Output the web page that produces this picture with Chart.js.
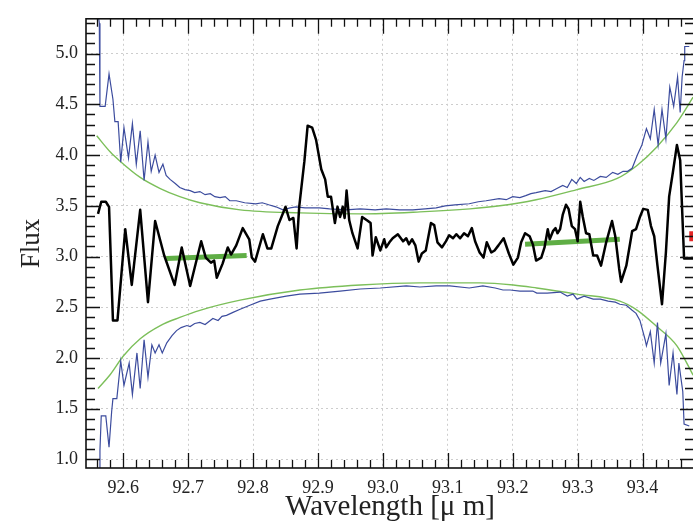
<!DOCTYPE html>
<html>
<head>
<meta charset="utf-8">
<script src="https://cdn.jsdelivr.net/npm/chart.js@4/dist/chart.umd.min.js"></script>
<style>
  html, body { margin: 0; padding: 0; background: #fff; overflow: hidden; }
  canvas { display: block; }
</style>
</head>
<body>
<canvas id="spectrum" width="700" height="525"></canvas>
<script>
// tick labels
const xTicks = [92.6, 92.7, 92.8, 92.9, 93.0, 93.1, 93.2, 93.3, 93.4];
const yTicks = [1.0, 1.5, 2.0, 2.5, 3.0, 3.5, 4.0, 4.5, 5.0];

// observed spectrum (black)
const specWave = [92.561, 92.566, 92.573, 92.578, 92.584, 92.591, 92.603, 92.613, 92.626, 92.638,
  92.649, 92.663, 92.679, 92.690, 92.703, 92.720, 92.727, 92.735, 92.740, 92.744,
  92.753, 92.761, 92.766, 92.774, 92.784, 92.794, 92.798, 92.803, 92.815, 92.822,
  92.828, 92.838, 92.850, 92.856, 92.862, 92.867, 92.871, 92.879, 92.884, 92.891,
  92.897, 92.905, 92.911, 92.915, 92.920, 92.926, 92.930, 92.934, 92.938, 92.941,
  92.944, 92.948, 92.953, 92.961, 92.968, 92.977, 92.981, 92.984, 92.989, 92.996,
  93.002, 93.005, 93.010, 93.015, 93.023, 93.031, 93.036, 93.040, 93.045, 93.050,
  93.055, 93.060, 93.066, 93.074, 93.079, 93.084, 93.091, 93.097, 93.102, 93.108,
  93.113, 93.119, 93.125, 93.131, 93.137, 93.142, 93.149, 93.155, 93.160, 93.167,
  93.172, 93.178, 93.186, 93.194, 93.201, 93.208, 93.213, 93.219, 93.226, 93.231,
  93.236, 93.244, 93.249, 93.254, 93.257, 93.262, 93.266, 93.269, 93.273, 93.277,
  93.282, 93.286, 93.291, 93.296, 93.300, 93.304, 93.308, 93.313, 93.318, 93.324,
  93.330, 93.336, 93.344, 93.353, 93.358, 93.364, 93.367, 93.375, 93.384, 93.390,
  93.396, 93.401, 93.408, 93.413, 93.418, 93.423, 93.430, 93.436, 93.441, 93.447,
  93.453, 93.458, 93.464, 93.490];
const specFlux = [3.42, 3.54, 3.54, 3.49, 2.37, 2.37, 3.27, 2.72, 3.46, 2.55,
  3.35, 3.01, 2.72, 3.09, 2.71, 3.15, 2.99, 2.94, 2.96, 2.79,
  2.93, 3.09, 3.02, 3.11, 3.28, 3.17, 2.99, 2.95, 3.22, 3.08,
  3.08, 3.30, 3.49, 3.36, 3.38, 3.08, 3.49, 3.94, 4.29, 4.27,
  4.15, 3.86, 3.76, 3.59, 3.59, 3.33, 3.49, 3.39, 3.49, 3.38,
  3.65, 3.36, 3.23, 3.08, 3.39, 3.35, 3.33, 3.01, 3.19, 3.06,
  3.17, 3.09, 3.14, 3.18, 3.22, 3.15, 3.18, 3.12, 3.17, 3.11,
  2.95, 3.03, 3.06, 3.33, 3.31, 3.14, 3.09, 3.15, 3.21, 3.18,
  3.22, 3.18, 3.23, 3.20, 3.28, 3.15, 3.04, 2.99, 3.14, 3.04,
  3.06, 3.11, 3.18, 3.03, 2.92, 2.99, 3.14, 3.23, 3.20, 3.12,
  2.96, 2.99, 3.09, 3.27, 3.17, 3.25, 3.28, 3.23, 3.27, 3.41,
  3.51, 3.47, 3.30, 3.27, 3.15, 3.54, 3.39, 3.23, 3.22, 3.01,
  3.01, 2.91, 3.14, 3.35, 3.20, 2.88, 2.75, 2.91, 3.25, 3.27,
  3.39, 3.47, 3.46, 3.30, 3.20, 2.91, 2.53, 3.04, 3.59, 3.84,
  4.10, 3.95, 2.98, 2.98];

// upper envelope (blue)
const upperWave = [92.560, 92.563, 92.564, 92.572, 92.578, 92.584, 92.587, 92.592, 92.596, 92.601,
  92.608, 92.614, 92.620, 92.626, 92.632, 92.638, 92.643, 92.649, 92.655, 92.661,
  92.666, 92.672, 92.680, 92.687, 92.695, 92.703, 92.710, 92.718, 92.726, 92.734,
  92.741, 92.749, 92.757, 92.764, 92.774, 92.787, 92.804, 92.814, 92.824, 92.835,
  92.846, 92.857, 92.866, 92.880, 92.902, 92.918, 92.943, 92.965, 92.988, 93.005,
  93.026, 93.046, 93.065, 93.082, 93.096, 93.111, 93.133, 93.147, 93.159, 93.179,
  93.190, 93.200, 93.211, 93.220, 93.228, 93.236, 93.250, 93.259, 93.268, 93.277,
  93.284, 93.291, 93.298, 93.304, 93.310, 93.318, 93.325, 93.335, 93.344, 93.354,
  93.362, 93.370, 93.377, 93.384, 93.392, 93.399, 93.406, 93.412, 93.418, 93.424,
  93.430, 93.436, 93.442, 93.448, 93.454, 93.458, 93.461, 93.464, 93.465, 93.472];
const upperFlux = [5.45, 5.30, 4.48, 4.48, 4.80, 4.55, 4.33, 4.33, 3.93, 4.27,
  3.97, 4.31, 3.91, 4.24, 3.75, 4.13, 3.84, 4.00, 3.83, 3.91,
  3.80, 3.76, 3.72, 3.68, 3.66, 3.65, 3.63, 3.64, 3.61, 3.62,
  3.59, 3.58, 3.59, 3.55, 3.55, 3.53, 3.52, 3.53, 3.51, 3.49,
  3.46, 3.48, 3.49, 3.48, 3.48, 3.47, 3.46, 3.47, 3.46, 3.47,
  3.46, 3.46, 3.47, 3.48, 3.50, 3.51, 3.52, 3.54, 3.55, 3.57,
  3.56, 3.59, 3.58, 3.60, 3.62, 3.63, 3.65, 3.64, 3.67, 3.70,
  3.68, 3.76, 3.72, 3.78, 3.74, 3.77, 3.75, 3.79, 3.78, 3.83,
  3.81, 3.84, 3.84, 3.87, 4.00, 4.10, 4.26, 4.16, 4.45, 4.10,
  4.45, 4.16, 4.67, 4.48, 4.77, 4.42, 4.77, 4.93, 5.07, 5.07];

// lower envelope (blue)
const lowerWave = [92.563, 92.564, 92.566, 92.573, 92.578, 92.582, 92.584, 92.590, 92.596, 92.601,
  92.609, 92.614, 92.621, 92.626, 92.632, 92.638, 92.644, 92.649, 92.655, 92.660,
  92.667, 92.675, 92.682, 92.689, 92.698, 92.703, 92.710, 92.718, 92.726, 92.734,
  92.738, 92.746, 92.752, 92.759, 92.769, 92.780, 92.795, 92.811, 92.826, 92.851,
  92.872, 92.902, 92.934, 92.965, 92.996, 93.036, 93.057, 93.082, 93.103, 93.133,
  93.154, 93.173, 93.185, 93.196, 93.211, 93.231, 93.237, 93.253, 93.273, 93.284,
  93.293, 93.299, 93.310, 93.324, 93.335, 93.347, 93.358, 93.365, 93.375, 93.384,
  93.390, 93.396, 93.404, 93.406, 93.412, 93.418, 93.423, 93.428, 93.436, 93.441,
  93.447, 93.453, 93.456, 93.462, 93.464, 93.472];
const lowerFlux = [0.90, 1.09, 1.43, 1.43, 1.12, 1.47, 1.60, 1.60, 1.97, 1.73,
  1.95, 1.64, 2.05, 1.70, 2.18, 1.81, 2.13, 2.05, 2.13, 2.05,
  2.15, 2.22, 2.27, 2.30, 2.32, 2.31, 2.34, 2.35, 2.33, 2.37,
  2.39, 2.37, 2.41, 2.42, 2.45, 2.48, 2.52, 2.56, 2.58, 2.61,
  2.63, 2.64, 2.66, 2.68, 2.69, 2.71, 2.70, 2.71, 2.71, 2.69,
  2.71, 2.69, 2.67, 2.67, 2.66, 2.66, 2.64, 2.64, 2.65, 2.61,
  2.63, 2.58, 2.61, 2.58, 2.58, 2.56, 2.55, 2.53, 2.52, 2.47,
  2.44, 2.37, 2.18, 2.12, 2.26, 1.95, 2.35, 1.95, 2.24, 1.73,
  2.05, 1.64, 1.95, 1.67, 1.35, 1.33];

// smooth limits (green)
const upperFitWave = [92.559, 92.580, 92.595, 92.626, 92.657, 92.687, 92.718, 92.780, 92.872, 92.965,
  93.057, 93.134, 93.180, 93.236, 93.299, 93.361, 93.392, 93.422, 93.453, 93.478];
const upperFitFlux = [4.19, 4.03, 3.94, 3.78, 3.67, 3.59, 3.53, 3.46, 3.43, 3.42,
  3.44, 3.47, 3.50, 3.56, 3.66, 3.77, 3.90, 4.08, 4.32, 4.57];
const lowerFitWave = [92.561, 92.579, 92.600, 92.626, 92.657, 92.687, 92.718, 92.780, 92.872, 92.965,
  93.057, 93.150, 93.201, 93.237, 93.299, 93.365, 93.392, 93.422, 93.453, 93.478];
const lowerFitFlux = [1.70, 1.83, 2.02, 2.19, 2.32, 2.40, 2.47, 2.57, 2.67, 2.72,
  2.74, 2.74, 2.72, 2.69, 2.63, 2.56, 2.47, 2.31, 2.12, 1.83];

// continuum segments (thick green) and marker (red)
const contAWave = [92.666, 92.790];
const contAFlux = [2.98, 3.01];
const contBWave = [93.219, 93.365];
const contBFlux = [3.12, 3.17];
const markWave = [93.472, 93.495];
const markFlux = [3.20, 3.20];

function pts(xs, ys) {
  return xs.map((x, i) => ({ x: x, y: ys[i] }));
}

// frame with inward ticks on all four sides
const frameTicks = {
  id: "frameTicks",
  afterDraw(chart) {
    const ctx = chart.ctx;
    const a = chart.chartArea;
    const sx = chart.scales.x;
    const sy = chart.scales.y;
    ctx.save();
    ctx.strokeStyle = "#111";
    ctx.lineWidth = 1.6;
    ctx.strokeRect(a.left, a.top, a.right - a.left, a.bottom - a.top);
    ctx.lineWidth = 1.3;
    ctx.beginPath();
    for (let k = 4628; k <= 4675; k++) {
      const px = Math.round(sx.getPixelForValue(k / 50)) + 0.5;
      if (px < a.left || px > a.right) continue;
      const len = k % 5 === 0 ? 15 : 8;
      ctx.moveTo(px, a.bottom); ctx.lineTo(px, a.bottom - len);
      ctx.moveTo(px, a.top); ctx.lineTo(px, a.top + len);
    }
    for (let k = 10; k <= 53; k++) {
      const py = Math.round(sy.getPixelForValue(k / 10)) + 0.5;
      if (py < a.top || py > a.bottom) continue;
      const len = k % 5 === 0 ? 14 : 9;
      ctx.moveTo(a.left, py); ctx.lineTo(a.left + len, py);
      ctx.moveTo(a.right, py); ctx.lineTo(a.right - len, py);
    }
    ctx.stroke();
    ctx.restore();
  }
};

const ctx = document.getElementById("spectrum").getContext("2d");
const chart = new Chart(ctx, {
  type: "line",
  data: {
    datasets: [
      {
        label: "marker",
        data: pts(markWave, markFlux),
        borderColor: "#e32626",
        borderWidth: 10,
        borderCapStyle: "butt",
      },
      {
        label: "spectrum",
        data: pts(specWave, specFlux),
        borderColor: "#000000",
        borderWidth: 2.5,
        borderJoinStyle: "round",
      },
      {
        label: "continuum A",
        data: pts(contAWave, contAFlux),
        borderColor: "#5fae45",
        borderWidth: 5,
      },
      {
        label: "continuum B",
        data: pts(contBWave, contBFlux),
        borderColor: "#5fae45",
        borderWidth: 5,
      },
      {
        label: "upper envelope",
        data: pts(upperWave, upperFlux),
        borderColor: "#3c4c9e",
        borderWidth: 1.2,
      },
      {
        label: "lower envelope",
        data: pts(lowerWave, lowerFlux),
        borderColor: "#3c4c9e",
        borderWidth: 1.2,
      },
      {
        label: "upper limit",
        data: pts(upperFitWave, upperFitFlux),
        borderColor: "#7cbf5a",
        borderWidth: 1.4,
        cubicInterpolationMode: "monotone",
      },
      {
        label: "lower limit",
        data: pts(lowerFitWave, lowerFitFlux),
        borderColor: "#7cbf5a",
        borderWidth: 1.4,
        cubicInterpolationMode: "monotone",
      },
    ],
  },
  options: {
    responsive: false,
    animation: false,
    layout: { padding: { top: 7, right: 6, left: 0, bottom: 0 } },
    elements: { point: { radius: 0 }, line: { tension: 0, fill: false } },
    plugins: {
      legend: { display: false },
      tooltip: { enabled: false },
    },
    scales: {
      x: {
        type: "linear",
        min: 92.5425,
        max: 93.4793,
        afterBuildTicks: (scale) => { scale.ticks = xTicks.map((v) => ({ value: v })); },
        afterFit: (scale) => { scale.height = 57; },
        grid: { color: "#cdcdcd", lineWidth: 1, drawTicks: false },
        border: { display: false, dash: [2, 3] },
        ticks: {
          padding: 9,
          color: "#222",
          maxRotation: 0,
          font: { family: "'Liberation Serif', 'DejaVu Serif', serif", size: 18 },
          callback: (v) => Number(v).toFixed(1),
        },
        title: {
          display: true,
          text: "Wavelength [μ m]",
          color: "#222",
          padding: { top: 0, bottom: 0 },
          font: { family: "'Liberation Serif', 'DejaVu Serif', serif", size: 29 },
        },
      },
      y: {
        type: "linear",
        min: 0.916,
        max: 5.343,
        afterBuildTicks: (scale) => { scale.ticks = yTicks.map((v) => ({ value: v })); },
        afterFit: (scale) => { scale.width = 86; },
        grid: { color: "#cdcdcd", lineWidth: 1, drawTicks: false },
        border: { display: false, dash: [2, 3] },
        ticks: {
          padding: 8,
          color: "#222",
          font: { family: "'Liberation Serif', 'DejaVu Serif', serif", size: 18 },
          callback: (v) => Number(v).toFixed(1),
        },
        title: {
          display: true,
          text: "Flux",
          color: "#222",
          padding: { top: 16, bottom: 0 },
          font: { family: "'Liberation Serif', 'DejaVu Serif', serif", size: 27 },
        },
      },
    },
  },
  plugins: [frameTicks],
});
</script>
</body>
</html>
